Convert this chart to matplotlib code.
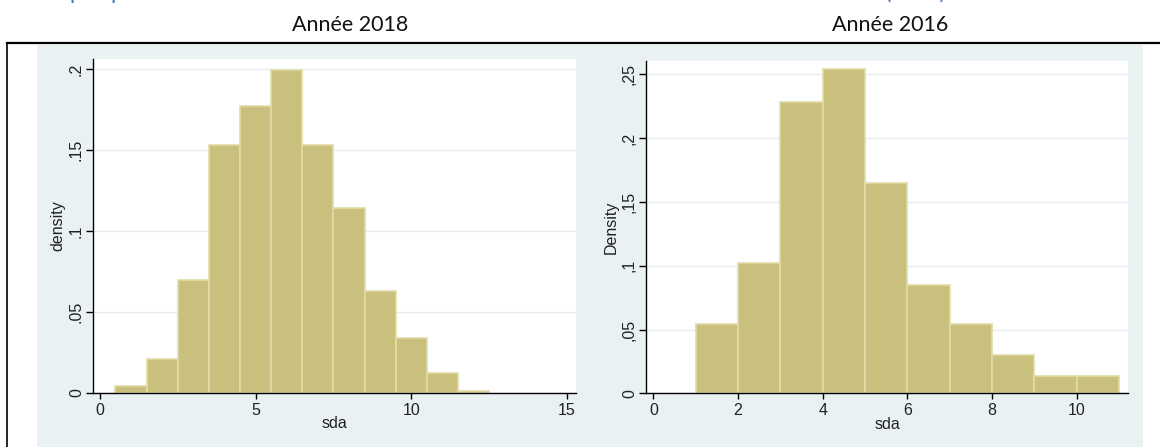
import numpy as np
import matplotlib.pyplot as plt
from matplotlib.patches import Rectangle
from matplotlib.lines import Line2D

# Histogram data (bin edges and densities)
edges_2018 = np.arange(0.5, 13.0, 1.0)
dens_2018 = [0.0045, 0.021, 0.070, 0.153, 0.177, 0.1996, 0.153, 0.114, 0.063, 0.034, 0.0123, 0.0012]
xticks_2018 = [0, 5, 10, 15]
yticks_2018 = [0, 0.05, 0.1, 0.15, 0.2]
ylabels_2018 = ["0", ".05", ".1", ".15", ".2"]

edges_2016 = np.arange(1.0, 12.0, 1.0)
dens_2016 = [0.054, 0.102, 0.228, 0.254, 0.165, 0.085, 0.054, 0.030, 0.0138, 0.0138]
xticks_2016 = [0, 2, 4, 6, 8, 10]
yticks_2016 = [0, 0.05, 0.1, 0.15, 0.2, 0.25]
ylabels_2016 = ["0", ",05", ",1", ",15", ",2", ",25"]

W, H = 1160, 447
bar_color = "#C9C07E"
bar_edge = "#E2DBA6"
bg_color = "#EAF1F3"
grid_color = "#E6ECEE"
txt = ["Liberation Sans", "DejaVu Sans"]

fig = plt.figure(figsize=(W / 100, H / 100), dpi=100)
fig.patch.set_facecolor("white")

# graph region background + page border lines
fig.patches.append(Rectangle((37 / W, 0), (1143 - 37) / W, 1 - 45 / H,
                             transform=fig.transFigure, facecolor=bg_color,
                             edgecolor="none", zorder=-1))
fig.lines.append(Line2D([7 / W, 1], [1 - 43 / H, 1 - 43 / H], transform=fig.transFigure,
                        color="black", lw=1.6))
fig.lines.append(Line2D([7 / W, 7 / W], [0, 1 - 43 / H], transform=fig.transFigure,
                        color="black", lw=1.2))

# cut-off heading of the document page
fig.text(31 / W, 1 + 1 / H, "Graphique 1 : Distribution du score de diversité alimentaire en 2018 et en 2016 (SDA)",
         fontsize=17.5, color="#4F81BD", family=["Lato", "DejaVu Sans"],
         ha="left", va="baseline")

fig.text(350 / W, 1 - 25 / H, "Année 2018", fontsize=15.5, family=["Lato", "DejaVu Sans"],
         ha="center", va="center", color="#111111")
fig.text(890 / W, 1 - 25 / H, "Année 2016", fontsize=15.5, family=["Lato", "DejaVu Sans"],
         ha="center", va="center", color="#111111")


def stata_hist(rect, edges, dens, xlim, ylim, xticks, yticks, ylabels, ylab):
    ax = fig.add_axes(rect)
    ax.set_facecolor("white")
    ax.bar(edges[:-1], dens, width=np.diff(edges), align="edge",
           color=bar_color, edgecolor=bar_edge, linewidth=1.2, zorder=2)
    ax.set_xlim(*xlim)
    ax.set_ylim(*ylim)
    ax.set_xticks(xticks)
    ax.set_yticks(yticks)
    ax.set_yticklabels(ylabels)
    ax.grid(axis="y", color=grid_color, lw=1, zorder=1)
    ax.set_axisbelow(True)
    for s in ["top", "right"]:
        ax.spines[s].set_visible(False)
    for s in ["left", "bottom"]:
        ax.spines[s].set_color("black")
        ax.spines[s].set_linewidth(1.0)
    ax.tick_params(axis="both", direction="out", width=1, color="black",
                   labelsize=11.5, labelcolor="#222222")
    ax.tick_params(axis="x", length=4, pad=3)
    ax.tick_params(axis="y", length=5, labelrotation=90, pad=1.5)
    for lbl in ax.get_yticklabels():
        lbl.set_va("center")
    for lbl in ax.get_xticklabels() + ax.get_yticklabels():
        lbl.set_family(txt)
    ax.set_xlabel("sda", fontsize=11.5, family=txt, color="#222222", labelpad=-1)
    ax.set_ylabel(ylab, fontsize=11.5, family=txt, color="#222222", labelpad=2.5)
    return ax


stata_hist([93 / W, 1 - 393 / H, 483 / W, 334 / H], edges_2018, dens_2018,
           (-0.22, 15.29), (0, 0.2062), xticks_2018, yticks_2018, ylabels_2018, "density")
stata_hist([646 / W, 1 - 393.3 / H, 482 / W, 332.6 / H], edges_2016, dens_2016,
           (-0.173, 11.21), (0, 0.2607), xticks_2016, yticks_2016, ylabels_2016, "Density")

fig.savefig("out.png", dpi=100)
